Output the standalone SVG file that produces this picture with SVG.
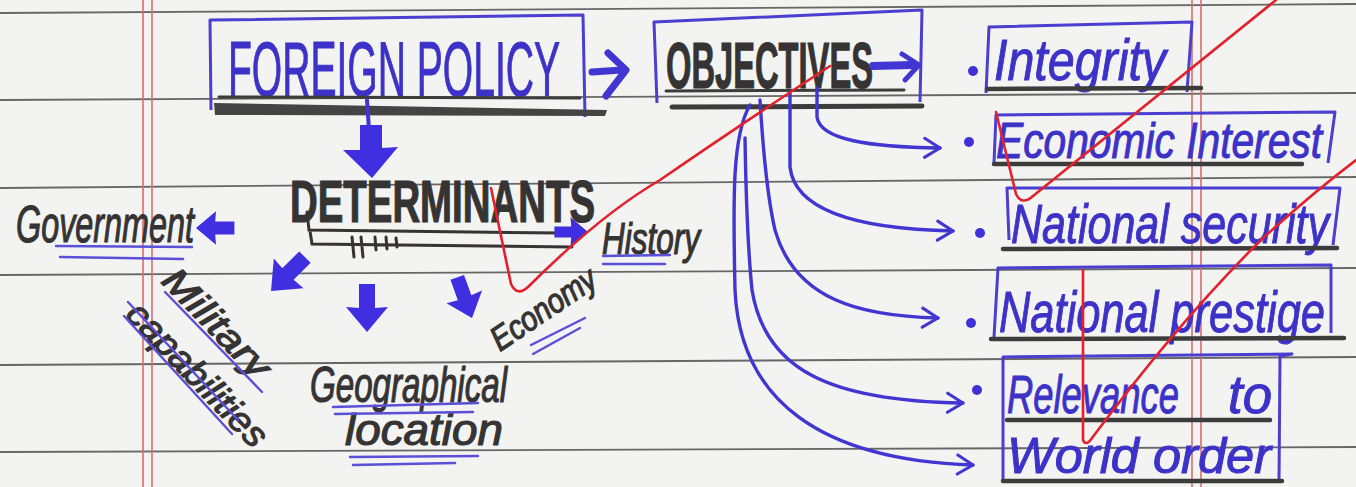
<svg xmlns="http://www.w3.org/2000/svg" xmlns:xlink="http://www.w3.org/1999/xlink" width="1356" height="487" viewBox="0 0 1356 487">
<style>
.rule{stroke:#4d4d4d;stroke-width:1.8;fill:none;opacity:.85}
.margin{stroke:#d27070;stroke-width:1.6;fill:none}
.red{stroke:#e3202b;stroke-width:2.6;fill:none;stroke-linecap:round;stroke-linejoin:round}
.box{stroke:#4a3fd0;stroke-width:3;fill:none;stroke-linejoin:round}
.bar{stroke:#3c3c3c;stroke-width:4.5;fill:none;stroke-linecap:round}
.ul{stroke:#5a50d8;stroke-width:2.4;fill:none;stroke-linecap:round}
.conn{stroke:#4236d2;stroke-width:3.4;fill:none;stroke-linecap:round;stroke-linejoin:round}
.blk{fill:#3f2fe0}
.dot{fill:#3f30d8}
.cap{font-family:"Liberation Sans",Arial,sans-serif}
.hand{font-family:"Liberation Sans",Arial,sans-serif;font-style:italic}
.blue{fill:#3d32c8;stroke:#3d32c8;stroke-width:1}
.dark{fill:#353333;stroke:#353333;stroke-width:1.2}
</style>
<defs>
<path id="blk" d="M-8,-48 L8,-48 L8,-24 L21,-25 L0,0 L-21,-25 L-8,-24 Z"/>
<marker id="vhead" viewBox="0 0 20 20" refX="17" refY="10" markerWidth="7" markerHeight="7" orient="auto" markerUnits="strokeWidth">
<path d="M4,2 L17,10 L4,18" fill="none" stroke="#4236d2" stroke-width="2.6" stroke-linecap="round" stroke-linejoin="round"/>
</marker>
</defs>
<rect x="0" y="0" width="1356" height="487" fill="#f3f3f1"/>
<g id="paper">
<path class="rule" d="M0,13 L1356,4"/>
<path class="rule" d="M0,100 L1356,93"/>
<path class="rule" d="M0,188 L1356,177"/>
<path class="rule" d="M0,275 L1356,268"/>
<path class="rule" d="M0,365 L1356,357"/>
<path class="rule" d="M0,452 L1356,447"/>
<path class="margin" d="M143,0 L143,487 M152,0 L152,487"/>
<path class="margin" d="M1192,0 L1192,487 M1201,0 L1201,487"/>
</g>
<g id="foreign-policy">
<path class="box" d="M211,110 L210,20 L583,15 L585,117"/>
<text class="cap blue" x="228" y="96" font-size="78" textLength="332" lengthAdjust="spacingAndGlyphs">FOREIGN POLICY</text>
<path class="bar" style="stroke-width:3" d="M219,97 L580,98"/>
<path d="M214,103 L607,110 L605,116 L215,115 Z" fill="#444"/>
</g>
<g id="objectives">
<path class="box" d="M657,103 L654,22 L922,10 L920,102"/>
<text class="cap dark" x="666" y="88" font-size="64" font-weight="bold" textLength="207" lengthAdjust="spacingAndGlyphs">OBJECTIVES</text>
<path class="bar" style="stroke-width:3" d="M666,91 L904,90"/>
<path class="bar" style="stroke-width:5" d="M672,107 L922,106"/>
</g>
<g id="determinants">
<text class="cap dark" x="290" y="222" font-size="60" font-weight="bold" textLength="305" lengthAdjust="spacingAndGlyphs">DETERMINANTS</text>
<path d="M307,212 L309,230 L560,233 M310,231 L312,244 L572,247 M352,237 L354,257 M361,237 L363,257 M375,237 L376,250 M386,237 L387,249 M396,238 L397,247" stroke="#353333" stroke-width="3" fill="none" stroke-linecap="round"/>
</g>
<g id="government">
<text class="hand dark" x="16" y="242" font-size="52" textLength="178" lengthAdjust="spacingAndGlyphs">Government</text>
<path class="ul" d="M56,246 L192,247 M60,257 L183,259"/>
</g>
<g id="history">
<text class="hand dark" x="602" y="254" font-size="44" textLength="98" lengthAdjust="spacingAndGlyphs">History</text>
<path class="ul" d="M603,256 L670,255 M603,264 L665,264"/>
</g>
<g id="military">
<text class="hand dark" transform="translate(160,282) rotate(46)" font-size="36" textLength="138" lengthAdjust="spacingAndGlyphs">Military</text>
<text class="hand dark" transform="translate(124,316) rotate(46)" font-size="36" textLength="186" lengthAdjust="spacingAndGlyphs">capabilities</text>
<path class="ul" d="M165,292 L262,392 M128,302 L238,420 M124,316 L232,434"/>
</g>
<g id="geographical">
<text class="hand dark" x="310" y="402" font-size="50" textLength="197" lengthAdjust="spacingAndGlyphs">Geographical</text>
<text class="hand dark" x="345" y="445" font-size="44" textLength="158" lengthAdjust="spacingAndGlyphs">location</text>
<path class="ul" d="M333,407 L478,403 M335,414 L473,412 M350,457 L478,456 M353,465 L455,463"/>
</g>
<g id="economy">
<text class="hand dark" transform="translate(500,352) rotate(-34)" font-size="34" textLength="120" lengthAdjust="spacingAndGlyphs">Economy</text>
<path class="ul" d="M531,345 L585,318 M533,354 L580,328"/>
</g>
<g id="integrity">
<circle class="dot" cx="973" cy="71" r="5"/>
<path class="box" d="M986,93 L989,27 L1192,22 L1187,92"/>
<text class="hand blue" x="994" y="80" font-size="58" textLength="172" lengthAdjust="spacingAndGlyphs">Integrity</text>
<path class="bar" d="M987,89 L1201,88"/>
</g>
<g id="economic-interest">
<circle class="dot" cx="969" cy="142" r="5"/>
<path class="box" d="M994,163 L996,115 L1335,112 L1328,163"/>
<text class="hand blue" x="996" y="158" font-size="50" textLength="326" lengthAdjust="spacingAndGlyphs">Economic Interest</text>
<path class="bar" d="M994,164 L1302,164"/>
</g>
<g id="national-security">
<circle class="dot" cx="980" cy="233" r="5"/>
<path class="box" d="M1009,240 L1007,188 L1340,188 L1333,245"/>
<text class="hand blue" x="1011" y="243" font-size="56" textLength="318" lengthAdjust="spacingAndGlyphs">National security</text>
<path class="bar" d="M1003,249 L1337,248"/>
</g>
<g id="national-prestige">
<circle class="dot" cx="971" cy="323" r="5"/>
<path class="box" d="M994,337 L998,268 L1331,265 L1331,333"/>
<text class="hand blue" x="999" y="332" font-size="58" textLength="326" lengthAdjust="spacingAndGlyphs">National prestige</text>
<path class="bar" d="M991,339 L1344,338"/>
</g>
<g id="relevance">
<circle class="dot" cx="977" cy="390" r="5"/>
<path class="box" d="M1003,480 L1003,357 L1292,354 L1280,356 L1279,481"/>
<text class="hand blue" x="1007" y="413" font-size="54" textLength="172" lengthAdjust="spacingAndGlyphs">Relevance</text>
<text class="hand blue" x="1228" y="413" font-size="54" textLength="44" lengthAdjust="spacingAndGlyphs">to</text>
<text class="hand blue" x="1007" y="473" font-size="50" textLength="264" lengthAdjust="spacingAndGlyphs">World order</text>
<path class="bar" d="M1007,420 L1270,420"/>
<path class="bar" d="M1003,481 L1282,481"/>
</g>
<g id="connectors">
<path class="conn" style="stroke-width:7" d="M592,72 L622,70 M608,53 L626,70 L606,96"/>
<path class="conn" style="stroke-width:8" d="M873,66 L912,65"/>
<path class="conn" style="stroke-width:5" d="M902,54 L919,65 L905,80"/>
<path class="conn" style="stroke-width:4" d="M367,100 L369,130"/>
<polygon class="blk" points="360,125 382,125 382,148 398,147 372,178 343,150 360,150"/>
<use xlink:href="#blk" class="blk" transform="translate(196,228) rotate(90) scale(0.8)"/>
<use xlink:href="#blk" class="blk" transform="translate(588,232) rotate(-90) scale(0.7)"/>
<use xlink:href="#blk" class="blk" transform="translate(271,291) rotate(45)"/>
<use xlink:href="#blk" class="blk" transform="translate(367,332)"/>
<use xlink:href="#blk" class="blk" transform="translate(472,318) rotate(-20) scale(0.9)"/>
<path class="conn" marker-end="url(#vhead)" d="M817,88 L817,117 C820,140 870,147 940,148"/>
<path class="conn" marker-end="url(#vhead)" d="M790,93 L790,167 C795,212 860,229 953,231"/>
<path class="conn" marker-end="url(#vhead)" d="M760,100 C763,150 768,200 775,230 C795,300 860,316 938,318"/>
<path class="conn" marker-end="url(#vhead)" d="M745,138 C746,200 748,250 752,290 C765,370 830,401 963,403"/>
<path class="conn" marker-end="url(#vhead)" d="M750,105 C732,135 733,200 735,290 C740,400 820,460 973,465"/>
</g>
<g id="marks">
<path class="red" d="M491,188 L511,284 Q517,297 528,287 Q600,215 660,180 Q740,125 830,66"/>
<path class="red" d="M996,112 L1016,194 Q1022,206 1033,196 L1276,0"/>
<path class="red" d="M1083,270 L1083,440 Q1086,447 1092,438 Q1180,320 1261,240 Q1310,195 1356,160"/>
</g>
</svg>
